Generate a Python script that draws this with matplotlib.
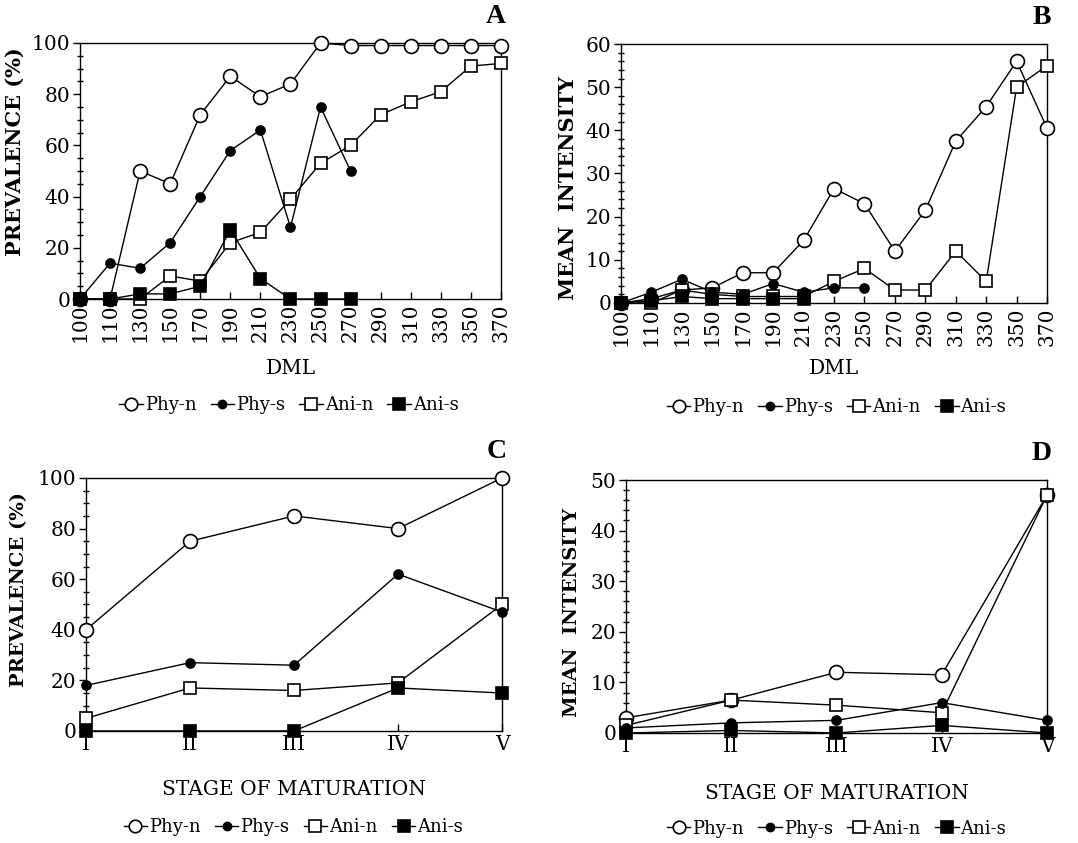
import numpy as np
import matplotlib
matplotlib.use("Agg")
import matplotlib.pyplot as plt
from matplotlib.ticker import MultipleLocator

plt.rcParams['font.family'] = ['DejaVu Serif', 'Liberation Serif']

# ---- data ----
dml = ['100', '110', '130', '150', '170', '190', '210', '230', '250',
       '270', '290', '310', '330', '350', '370']
stages = ['I', 'II', 'III', 'IV', 'V']

# A: prevalence by DML
a_phy_n = [0, 0, 50, 45, 72, 87, 79, 84, 100, 99, 99, 99, 99, 99, 99]
a_phy_s = [0, 14, 12, 22, 40, 58, 66, 28, 75, 50]
a_ani_n = [0, 0, 0, 9, 7, 22, 26, 39, 53, 60, 72, 77, 81, 91, 92]
a_ani_s = [0, 0, 2, 2, 5, 27, 8, 0, 0, 0]

# B: mean intensity by DML
b_phy_n = [0, 1, 3, 3.5, 7, 7, 14.5, 26.5, 23, 12, 21.5, 37.5, 45.5, 56, 40.5]
b_phy_s = [0, 2.5, 5.5, 2.5, 2, 4.5, 2.5, 3.5, 3.5]
b_ani_n = [0, 0, 3, 2, 1.5, 1.5, 1.5, 5, 8, 3, 3, 12, 5, 50, 55]
b_ani_s = [0, 0.5, 1.5, 1, 1, 1, 1]

# C: prevalence by stage
c_phy_n = [40, 75, 85, 80, 100]
c_phy_s = [18, 27, 26, 62, 47]
c_ani_n = [5, 17, 16, 19, 50]
c_ani_s = [0, 0, 0, 17, 15]

# D: mean intensity by stage
d_phy_n = [3, 6.5, 12, 11.5, 47]
d_phy_s = [1, 2, 2.5, 6, 2.5]
d_ani_n = [1.5, 6.5, 5.5, 4, 47]
d_ani_s = [0, 0.5, 0, 1.5, 0]

series_names = ['Phy-n', 'Phy-s', 'Ani-n', 'Ani-s']
styles = [dict(marker='o', mfc='white', mec='black', ms=10, zorder=3),
          dict(marker='o', mfc='black', mec='black', ms=6.5, zorder=4),
          dict(marker='s', mfc='white', mec='black', ms=9, zorder=3),
          dict(marker='s', mfc='black', mec='black', ms=9, zorder=4)]

fig = plt.figure(figsize=(10.78, 8.43), dpi=100)

def panel(rect, cats, data, ymax, ymajor, yminor, ylabel, ylab_size, ylab_xy,
          xlabel, letter, rot, leg_xy, xlab_y):
    ax = fig.add_axes(rect)
    handles = []
    for vals, st, name in zip(data, styles, series_names):
        h, = ax.plot(range(len(vals)), vals, color='black', lw=1.0,
                     mew=1.2, label=name, clip_on=False, **st)
        handles.append(h)
    ax.set_xlim(0, len(cats) - 1)
    ax.set_ylim(0, ymax)
    ax.set_xticks(range(len(cats)))
    ax.set_xticklabels(cats, rotation=rot, fontsize=14.5)
    ax.yaxis.set_major_locator(MultipleLocator(ymajor))
    ax.yaxis.set_minor_locator(MultipleLocator(yminor))
    ax.tick_params(axis='y', which='major', direction='out', length=5,
                   width=1, labelsize=14.5, pad=2)
    ax.tick_params(axis='y', which='minor', direction='inout', length=4,
                   width=1)
    ax.tick_params(axis='x', which='major', direction='in', length=5,
                   width=1, pad=3)
    for sp in ax.spines.values():
        sp.set_linewidth(1.0)
    ax.set_ylabel(ylabel, fontsize=ylab_size, fontweight='bold')
    ax.yaxis.set_label_coords(*ylab_xy)
    fig.text(rect[0] + rect[2] / 2, xlab_y, xlabel, ha='center',
             va='center', fontsize=14.5)
    fig.text(rect[0] + rect[2] - 0.005, rect[1] + rect[3] + 0.032, letter,
             ha='center', va='center', fontsize=20, fontweight='bold',
             family='Liberation Serif')
    fig.legend(handles=handles, loc='center', bbox_to_anchor=leg_xy,
               ncol=4, frameon=False, fontsize=13, handlelength=1.3,
               handletextpad=0.1, columnspacing=0.8, markerscale=0.9)
    return ax

panel([0.0742, 0.6453, 0.3905, 0.3037], dml,
      [a_phy_n, a_phy_s, a_ani_n, a_ani_s], 100, 20, 5,
      'PREVALENCE (%)', 15, (-0.132, 0.575), 'DML', 'A', 90,
      (0.268, 0.519), 0.563)
panel([0.5761, 0.6406, 0.3952, 0.3072], dml,
      [b_phy_n, b_phy_s, b_ani_n, b_ani_s], 60, 10, 2,
      'MEAN  INTENSITY', 15, (-0.10, 0.445), 'DML', 'B', 90,
      (0.776, 0.517), 0.563)
panel([0.0798, 0.1329, 0.3859, 0.3001], stages,
      [c_phy_n, c_phy_s, c_ani_n, c_ani_s], 100, 20, 5,
      'PREVALENCE (%)', 14, (-0.14, 0.56), 'STAGE OF MATURATION', 'C', 0,
      (0.272, 0.019), 0.063)
panel([0.5807, 0.1305, 0.3905, 0.3001], stages,
      [d_phy_n, d_phy_s, d_ani_n, d_ani_s], 50, 10, 2,
      'MEAN  INTENSITY', 14, (-0.107, 0.478), 'STAGE OF MATURATION', 'D', 0,
      (0.776, 0.017), 0.059)

fig.savefig('out.png', dpi=100)
